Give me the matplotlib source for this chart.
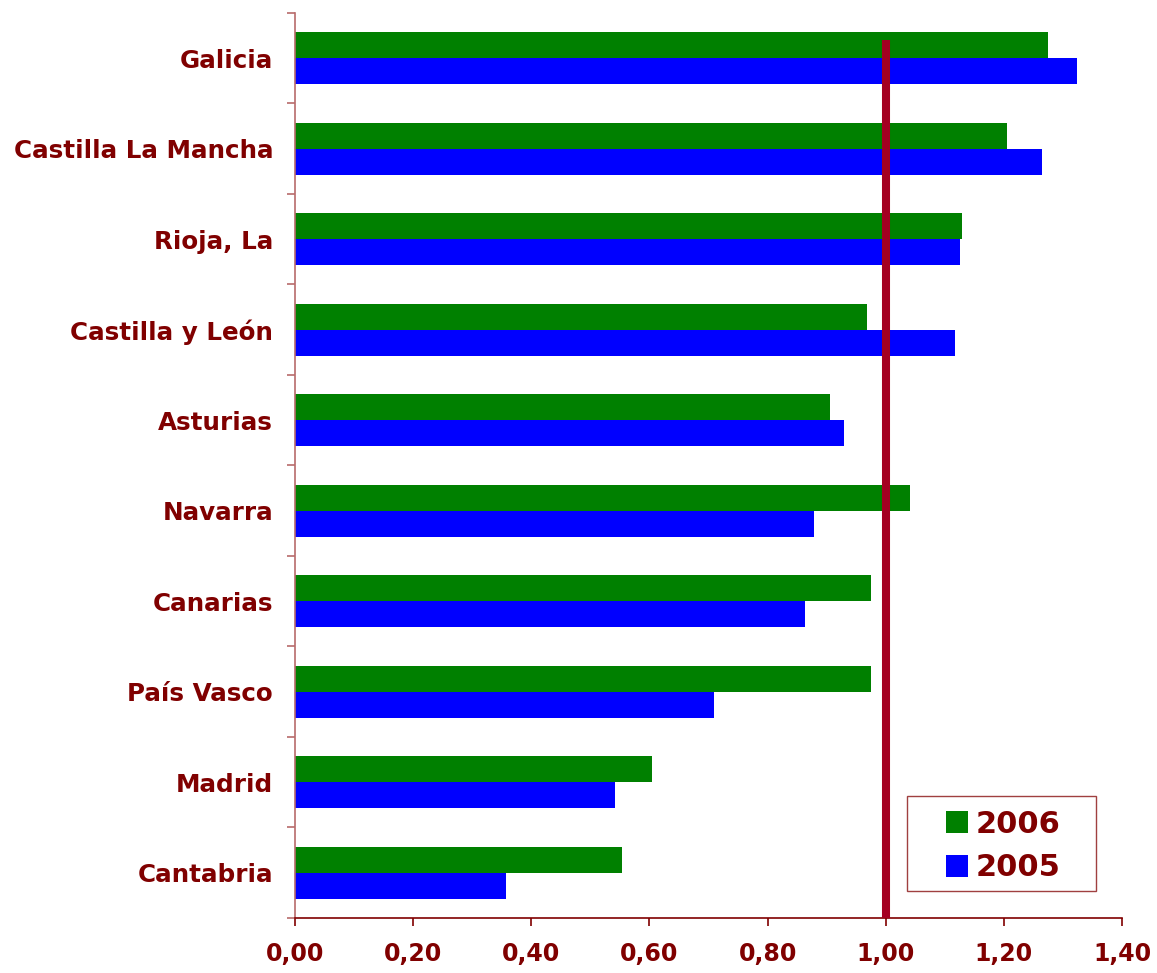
import numpy as np
import matplotlib.pyplot as plt
from matplotlib.patches import Patch, Rectangle

regions = ['Galicia', 'Castilla La Mancha', 'Rioja, La', 'Castilla y León',
           'Asturias', 'Navarra', 'Canarias', 'País Vasco', 'Madrid', 'Cantabria']
vals_2006 = [1.275, 1.205, 1.129, 0.968, 0.905, 1.041, 0.975, 0.975, 0.605, 0.553]
vals_2005 = [1.324, 1.264, 1.125, 1.117, 0.929, 0.878, 0.863, 0.710, 0.542, 0.358]
xticks = [0.0, 0.2, 0.4, 0.6, 0.8, 1.0, 1.2, 1.4]
reference = 1.0

text_col = '#800000'
plt.rcParams['font.family'] = ['DejaVu Sans']

W, H = 1157, 973
fig = plt.figure(figsize=(W / 100, H / 100), dpi=100)
ax = fig.add_axes([295/W, 55/H, 827/W, 905/H])

y = np.arange(len(regions))
h = 0.287
ax.barh(y - h/2, vals_2006, height=h, color='#008000', label='2006')
ax.barh(y + h/2, vals_2005, height=h, color='#0000ff', label='2005')

# reference line at 1.0
ax.vlines(reference, -0.2, len(regions) - 0.5, color='#a50021', linewidth=5.8, zorder=3)

ax.set_xlim(0, 1.4)
ax.set_ylim(len(regions) - 0.5, -0.5)

ax.set_xticks(xticks)
ax.set_xticklabels([f'{v:.2f}'.replace('.', ',') for v in xticks])
ax.set_yticks(y)
ax.set_yticklabels(regions)
ax.set_yticks(np.arange(-0.5, len(regions)), minor=True)

ax.tick_params(axis='y', which='major', length=0, pad=15.8,
               labelsize=17.75, labelcolor=text_col)
ax.tick_params(axis='y', which='minor', length=6, width=1.2, color='#b86b6b', direction='out')
ax.tick_params(axis='x', length=6, width=1.2, color=text_col, pad=11.5,
               labelsize=17, labelcolor=text_col)
for lab in ax.get_xticklabels() + ax.get_yticklabels():
    lab.set_fontweight('bold')

for s in ['top', 'right']:
    ax.spines[s].set_visible(False)
ax.spines['left'].set_color('#b86b6b')
ax.spines['left'].set_linewidth(1.2)
ax.spines['bottom'].set_color(text_col)
ax.spines['bottom'].set_linewidth(1.2)

# legend: box drawn separately, entries inside without frame
box = Rectangle((907/W, (H - 891)/H), 189/W, 95/H, transform=fig.transFigure,
                facecolor='white', edgecolor='#a04040', linewidth=1.0, zorder=4, clip_on=False)
ax.add_patch(box)
handles = [Patch(facecolor='#008000', label='2006'),
           Patch(facecolor='#0000ff', label='2005')]
leg = ax.legend(handles=handles, loc='upper left', bbox_to_anchor=(946/W, (H - 810)/H),
                bbox_transform=fig.transFigure, frameon=False,
                prop={'size': 22, 'weight': 'bold'}, handlelength=0.72, handleheight=0.72,
                handletextpad=0.25, borderpad=0, labelspacing=0.47, borderaxespad=0)
leg.set_zorder(6)
for t in leg.get_texts():
    t.set_color(text_col)

fig.savefig('out.png', dpi=100)
